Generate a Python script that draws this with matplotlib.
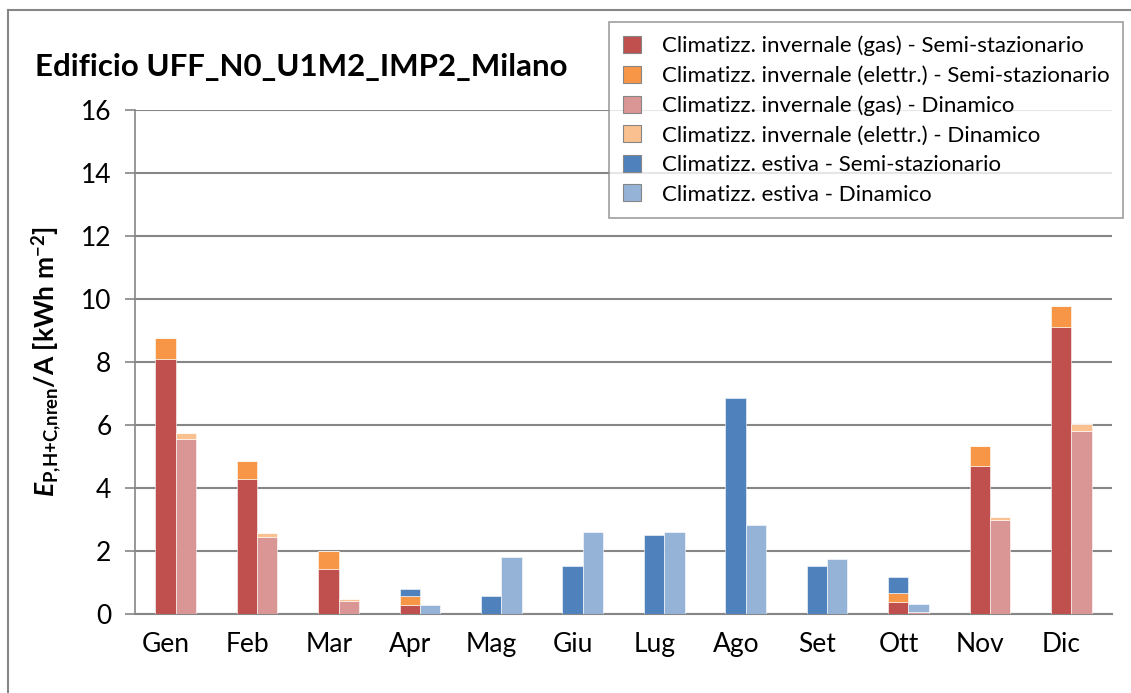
import numpy as np
import matplotlib.pyplot as plt
from matplotlib.lines import Line2D

plt.rcParams['font.family'] = ['Lato', 'DejaVu Sans']
plt.rcParams['mathtext.fontset'] = 'custom'
plt.rcParams['mathtext.rm'] = 'Lato'
plt.rcParams['mathtext.bf'] = 'Lato:bold'
plt.rcParams['mathtext.it'] = 'Lato:italic'
plt.rcParams['mathtext.bfit'] = 'Lato:bold:italic'

mesi = ['Gen', 'Feb', 'Mar', 'Apr', 'Mag', 'Giu', 'Lug', 'Ago', 'Set', 'Ott', 'Nov', 'Dic']

# semi-stazionario
gas_semi = [8.10, 4.30, 1.42, 0.27, 0, 0, 0, 0, 0, 0.38, 4.71, 9.11]
el_semi = [0.67, 0.56, 0.59, 0.30, 0, 0, 0, 0, 0, 0.30, 0.63, 0.67]
est_semi = [0, 0, 0, 0.21, 0.56, 1.52, 2.50, 6.85, 1.52, 0.50, 0, 0]

# dinamico
gas_din = [5.55, 2.45, 0.42, 0, 0, 0, 0, 0, 0, 0.07, 2.98, 5.82]
el_din = [0.19, 0.11, 0.05, 0, 0, 0, 0, 0, 0, 0, 0.10, 0.21]
est_din = [0, 0, 0, 0.27, 1.82, 2.59, 2.59, 2.82, 1.75, 0.25, 0, 0]

labels = ['Climatizz. invernale (gas) - Semi-stazionario',
          'Climatizz. invernale (elettr.) - Semi-stazionario',
          'Climatizz. invernale (gas) - Dinamico',
          'Climatizz. invernale (elettr.) - Dinamico',
          'Climatizz. estiva - Semi-stazionario',
          'Climatizz. estiva - Dinamico']
colori = ['#C0504D', '#F79646', '#D99694', '#FAC090', '#4F81BD', '#95B3D7']

fig = plt.figure(figsize=(11.31, 6.93), dpi=100)
ax = fig.add_axes([135/1131, 1 - 614/693, (1112-135)/1131, (614-110)/693])

x = np.arange(len(mesi))
w = 0.25
gas_semi, el_semi, est_semi = map(np.array, (gas_semi, el_semi, est_semi))
gas_din, el_din, est_din = map(np.array, (gas_din, el_din, est_din))

kw = dict(width=w, edgecolor='white', linewidth=0.4, zorder=3)
h0 = ax.bar(x - w/2, gas_semi, color=colori[0], **kw)
h1 = ax.bar(x - w/2, el_semi, bottom=gas_semi, color=colori[1], **kw)
h4 = ax.bar(x - w/2, est_semi, bottom=gas_semi + el_semi, color=colori[4], **kw)
h2 = ax.bar(x + w/2, gas_din, color=colori[2], **kw)
h3 = ax.bar(x + w/2, el_din, bottom=gas_din, color=colori[3], **kw)
h5 = ax.bar(x + w/2, est_din, bottom=gas_din + el_din, color=colori[5], **kw)

ax.set_xlim(-0.5, len(mesi) - 0.5)
ax.set_ylim(0, 16)
ax.set_yticks(range(0, 17, 2))
# etichette dei mesi leggermente spostate a sinistra
ax.set_xticks(x - 0.12)
ax.set_xticklabels(mesi, fontsize=19)
ax.tick_params(axis='y', labelsize=19, length=7, width=1.2, color='#868686', pad=10)
ax.tick_params(axis='x', length=0, pad=13)
ax.yaxis.grid(True, color='#868686', linewidth=1.5, zorder=0)
for s in ['top', 'right']:
    ax.spines[s].set_visible(False)
ax.spines['left'].set_color('#868686')
ax.spines['bottom'].set_color('#868686')
ax.spines['left'].set_linewidth(1.2)
ax.spines['bottom'].set_linewidth(1.5)

ax.set_ylabel(r'$\mathbfit{E}_{\mathbf{P{,}H{+}C{,}nren}}$/A [kWh m$^{\mathbf{-2}}$]',
              fontsize=19, fontweight='bold', labelpad=12)

fig.text(35/1131, 1 - 67/693, 'Edificio UFF_N0_U1M2_IMP2_Milano',
         fontsize=22.5, fontweight='bold', va='center', ha='left')

leg = fig.legend([h0, h1, h2, h3, h4, h5], labels,
                 loc='upper left', bbox_to_anchor=(609/1131, 1 - 22/693),
                 fontsize=16, frameon=True, fancybox=False,
                 handlelength=0.8, handleheight=0.8, handletextpad=0.95,
                 labelspacing=0.42, borderpad=0.62, borderaxespad=0)
leg.get_frame().set_edgecolor('#868686')
leg.get_frame().set_linewidth(1.2)
for p in leg.get_patches():
    p.set_edgecolor('#868686')
    p.set_linewidth(0.8)

# cornice del grafico
fig.add_artist(Line2D([8/1131, 8/1131], [0, 1 - 10/693], transform=fig.transFigure,
                      color='#868686', linewidth=1.5))
fig.add_artist(Line2D([8/1131, 1], [1 - 10/693, 1 - 10/693], transform=fig.transFigure,
                      color='#868686', linewidth=1.5))

fig.savefig('out.png', dpi=100)
